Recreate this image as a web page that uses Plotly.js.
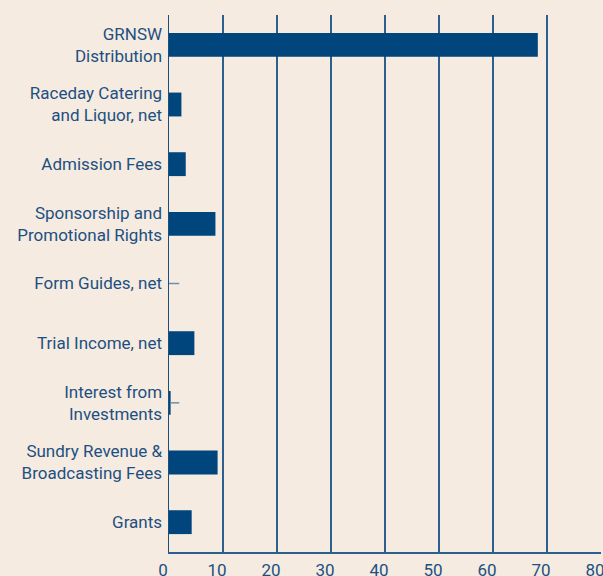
<!DOCTYPE html>
<html>
<head>
<meta charset="utf-8">
<script src="https://cdn.plot.ly/plotly-3.0.1.min.js"></script>
<style>
  html, body { margin: 0; padding: 0; background: #f5ebe0; }
  #chart { width: 603px; height: 576px; }
</style>
</head>
<body>
<div id="chart"></div>
<script>
// revenue categories, top to bottom
const categories = [
  'GRNSW<br>Distribution',
  'Raceday Catering<br>and Liquor, net',
  'Admission Fees',
  'Sponsorship and<br>Promotional Rights',
  'Form Guides, net',
  'Trial Income, net',
  'Interest from<br>Investments',
  'Sundry Revenue &<br>Broadcasting Fees',
  'Grants'
];
const values = [68.3, 2.3, 3.1, 8.6, 0, 4.7, 0.3, 9.0, 4.2];
// the little light strokes next to the near-zero rows
const smallMarks = [0, 0, 0, 0, 1.9, 0, 1.6, 0, 0];
const xTicks = [0, 10, 20, 30, 40, 50, 60, 70, 80];

const NAVY = '#00457c';
const TEXT = '#1d5082';

const bars = {
  type: 'bar',
  orientation: 'h',
  y: categories,
  x: values,
  marker: {color: NAVY, line: {width: 0}},
  error_x: {
    type: 'data',
    symmetric: false,
    array: smallMarks,
    arrayminus: smallMarks.map(() => 0),
    color: '#6f8fae',
    thickness: 1.5,
    width: 0
  },
  hoverinfo: 'skip'
};

const layout = {
  width: 603,
  height: 576,
  margin: {l: 169, r: 2, t: 15, b: 24},
  paper_bgcolor: '#f5ebe0',
  plot_bgcolor: '#f5ebe0',
  showlegend: false,
  bargap: 0.6,
  font: {family: 'Roboto, sans-serif', size: 17, color: TEXT},
  xaxis: {
    range: [0, 80],
    tickvals: xTicks,
    showgrid: true,
    gridcolor: '#2d5f8e',
    gridwidth: 1.5,
    zeroline: false,
    showline: true,
    linecolor: '#2d5f8e',
    linewidth: 1.5,
    ticks: '',
    ticklabelshift: -6,
    ticklabelstandoff: 2,
    ticklabeloverflow: 'allow',
    automargin: false,
    tickfont: {size: 17, color: TEXT},
    fixedrange: true
  },
  yaxis: {
    autorange: 'reversed',
    showgrid: false,
    zeroline: false,
    showline: true,
    linecolor: '#1d4f7e',
    linewidth: 1.5,
    ticks: '',
    ticklabelstandoff: 2,
    automargin: false,
    tickfont: {size: 17, color: TEXT},
    fixedrange: true
  }
};

Plotly.newPlot('chart', [bars], layout, {displayModeBar: false, staticPlot: true});
</script>
</body>
</html>
